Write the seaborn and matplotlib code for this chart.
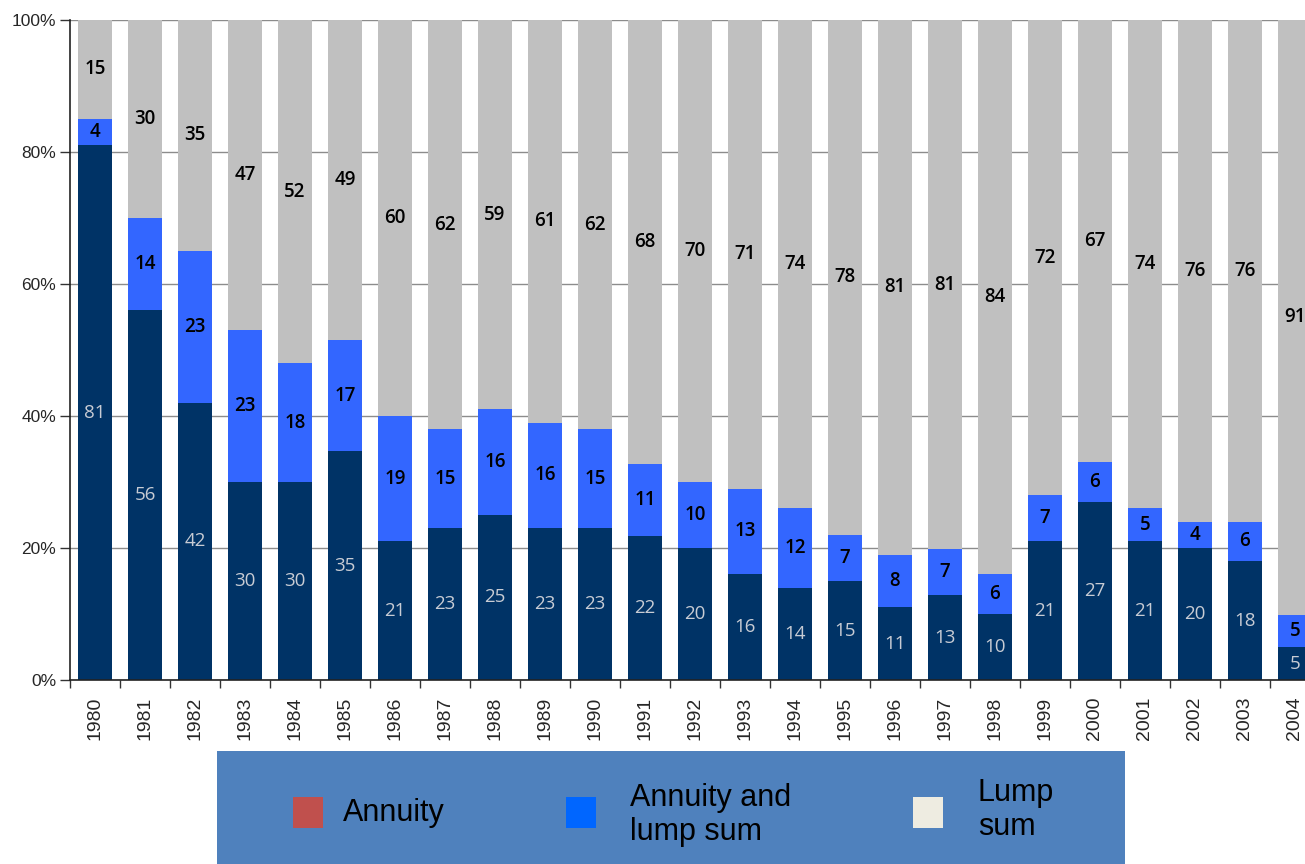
import matplotlib
matplotlib.use("Agg")
import matplotlib.pyplot as plt
import seaborn as sns
import numpy as np
import pandas as pd
from matplotlib.patches import Rectangle

years = [str(y) for y in range(1980, 2005)]
annuity = [81, 56, 42, 30, 30, 35, 21, 23, 25, 23, 23, 22, 20, 16, 14, 15, 11, 13, 10, 21, 27, 21, 20, 18, 5]
annuity_and_lump = [4, 14, 23, 23, 18, 17, 19, 15, 16, 16, 15, 11, 10, 13, 12, 7, 8, 7, 6, 7, 6, 5, 4, 6, 5]
lump_sum = [15, 30, 35, 47, 52, 49, 60, 62, 59, 61, 62, 68, 70, 71, 74, 78, 81, 81, 84, 72, 67, 74, 76, 76, 91]
legend_labels = ["Annuity", "Annuity and\nlump sum", "Lump\nsum"]
yticks = [0, 20, 40, 60, 80, 100]

bar_colors = ["#003366", "#3366ff", "#c0c0c0"]
legend_colors = ["#c0504d", "#0066ff", "#eeece1"]

sns.set_theme(style="white")
plt.rcParams["font.family"] = ["Liberation Sans", "DejaVu Sans"]

a = np.array(annuity, float)
b = np.array(annuity_and_lump, float)
c = np.array(lump_sum, float)
tot = a + b + c
pa = a / tot * 100
pb = b / tot * 100
pc = c / tot * 100

df = pd.DataFrame({"year": years, "l1": pa, "l2": pa + pb, "l3": pa + pb + pc})

W, H = 1305, 864
fig = plt.figure(figsize=(W / 100, H / 100), dpi=100)
ax = fig.add_axes([70 / W, (H - 680) / H, 1250 / W, 660 / H])

sns.barplot(data=df, x="year", y="l3", color=bar_colors[2], saturation=1, width=0.68, ax=ax, zorder=2)
sns.barplot(data=df, x="year", y="l2", color=bar_colors[1], saturation=1, width=0.68, ax=ax, zorder=3)
sns.barplot(data=df, x="year", y="l1", color=bar_colors[0], saturation=1, width=0.68, ax=ax, zorder=4)
for p in ax.patches:
    p.set_edgecolor("none")

ax.set_xlim(-0.5, len(years) - 0.5)
ax.set_ylim(0, 100)
ax.set_xlabel("")
ax.set_ylabel("")
ax.set_yticks(yticks)
ax.set_yticklabels([f"{v}%" for v in yticks], fontsize=12.5)
ax.yaxis.grid(True, color="#8c8c8c", linewidth=1)
ax.set_axisbelow(True)
ax.set_xticks(range(len(years)))
ax.set_xticklabels(years, rotation=90, fontsize=14)
ax.tick_params(axis="x", which="major", length=0, pad=12)
ax.set_xticks(np.arange(-0.5, len(years), 1), minor=True)
ax.tick_params(axis="x", which="minor", length=6, width=1, color="#333333", direction="out", bottom=True)
ax.tick_params(axis="y", which="major", length=7, width=1, color="#333333", direction="out", left=True, pad=3)
for s in ["top", "right"]:
    ax.spines[s].set_visible(False)
for s in ["left", "bottom"]:
    ax.spines[s].set_color("#222222")
    ax.spines[s].set_linewidth(1.2)
    ax.spines[s].set_zorder(6)

lab_font = ["Open Sans", "DejaVu Sans"]
for i in range(len(years)):
    ax.text(i, pa[i] / 2, f"{annuity[i]}", ha="center", va="center", color="#c8ccd4",
            fontsize=13.5, family=lab_font, zorder=7)
    ax.text(i, pa[i] + pb[i] / 2, f"{annuity_and_lump[i]}", ha="center", va="center", color="black",
            fontsize=13.5, fontweight="semibold", family=lab_font, zorder=7)
    ax.text(i, pa[i] + pb[i] + pc[i] / 2, f"{lump_sum[i]}", ha="center", va="center", color="black",
            fontsize=13.5, fontweight="semibold", family=lab_font, zorder=7)

# legend box
fig.patches.append(Rectangle((217 / W, 0), (1125 - 217) / W, (H - 751) / H,
                             transform=fig.transFigure, facecolor="#4f81bd", edgecolor="none", zorder=0))
sq_x = [293, 566, 913]
tx_x = [343, 630, 978]
tx_y = [813, 815, 810]
for k in range(3):
    fig.patches.append(Rectangle((sq_x[k] / W, (H - 828) / H), 30 / W, 31 / H,
                                 transform=fig.transFigure, facecolor=legend_colors[k],
                                 edgecolor="none", zorder=1))
    fig.text(tx_x[k] / W, (H - tx_y[k]) / H, legend_labels[k], ha="left", va="center",
             fontsize=22, color="black", linespacing=1.2, zorder=2)

fig.savefig("out.png", dpi=100)
